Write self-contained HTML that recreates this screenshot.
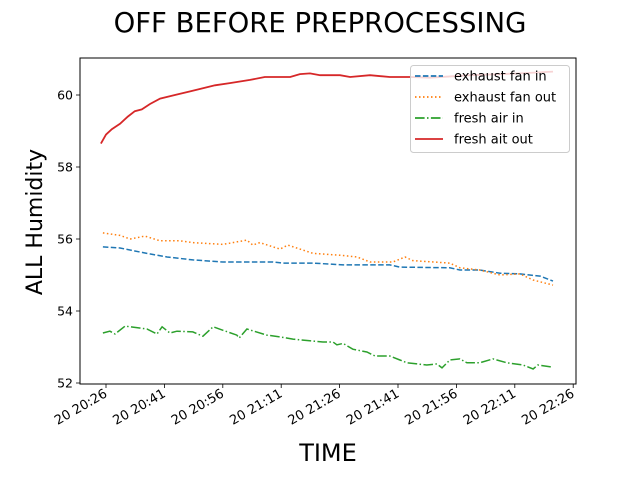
<!DOCTYPE html>
<html><head><meta charset="utf-8"><style>
body{margin:0;background:#fff;}
svg text{font-family:"DejaVu Sans","Liberation Sans",sans-serif;}
</style></head><body>
<svg id="chart" width="640" height="480" viewBox="0 0 640 480" xmlns="http://www.w3.org/2000/svg">
<rect width="640" height="480" fill="#fff"/>
<text x="320" y="32" font-size="27.5" text-anchor="middle">OFF BEFORE PREPROCESSING</text>
<text x="328" y="461" font-size="24" text-anchor="middle">TIME</text>
<text transform="translate(42,222) rotate(-90)" font-size="22" text-anchor="middle">ALL Humidity</text>
<g id="plot"></g>
</svg>
<script>
// minutes after 20:00
const redT=[24.7,26,27.5,29.6,31.6,33.4,35.2,37.3,39.9,43.7,47.6,51.4,54,57.8,63,66.8,73.3,75.8,78.4,81,86.1,88.7,93.8,98.9,104.1,109.2,119.5,132.3,140.8];
const redV=[58.65,58.9,59.05,59.2,59.4,59.55,59.6,59.75,59.9,60.0,60.1,60.2,60.27,60.33,60.42,60.5,60.5,60.58,60.6,60.55,60.55,60.5,60.55,60.5,60.5,60.48,60.55,60.6,60.65];
const orT=[25.2,29.6,32.2,36,39.9,45,48.3,56,62.2,63.7,65.5,70.7,72.7,79.2,86.1,90.5,93.8,99.7,102.8,104.8,114.3,116.9,122,127.2,132.3,135.7,140.8];
const orV=[56.17,56.1,56.0,56.08,55.95,55.95,55.9,55.85,55.97,55.83,55.9,55.72,55.83,55.6,55.55,55.5,55.36,55.36,55.5,55.4,55.33,55.2,55.14,55.0,55.03,54.86,54.72];
const blT=[25.2,29.6,36.5,41.7,48.3,56,68.9,71.5,79.2,86.9,98.9,101.5,114.3,116.9,122,127.2,132.3,137.5,140.8];
const blV=[55.78,55.75,55.6,55.5,55.42,55.36,55.36,55.33,55.33,55.28,55.28,55.22,55.2,55.14,55.14,55.05,55.03,54.97,54.83];
const grT=[25.2,27,28.3,30.9,36.5,39.1,40.4,42.4,44.2,48.3,50.9,53.5,59.6,60.2,62.2,67.3,70.7,74,81.7,84.3,85.3,86.9,89.4,93,95.1,98.9,101.5,103.3,108.4,111,112.3,114.3,116.9,118.7,122,125.4,129,133.1,135.7,136.9,140.8];
const grV=[53.39,53.44,53.36,53.58,53.5,53.36,53.56,53.39,53.44,53.42,53.3,53.56,53.33,53.25,53.5,53.33,53.28,53.22,53.14,53.14,53.06,53.1,52.94,52.86,52.75,52.75,52.64,52.56,52.5,52.53,52.42,52.64,52.67,52.56,52.56,52.67,52.56,52.5,52.39,52.5,52.44];
const xTicks=[26,41,56,71,86,101,116,131,146];
const xLabels=["20 20:26","20 20:41","20 20:56","20 21:11","20 21:26","20 21:41","20 21:56","20 22:11","20 22:26"];
const yTicks=[52,54,56,58,60];

const L=80,R=576,T=58,B=384;
const x=t=>106+(t-26)*58.4/15;
const y=v=>383-(v-52)*36;
const NS="http://www.w3.org/2000/svg";
const g=document.getElementById('plot');
function mk(tag,attrs,parent){const e=document.createElementNS(NS,tag);for(const k in attrs)e.setAttribute(k,attrs[k]);(parent||g).appendChild(e);return e;}

function series(ts,vs,color,dash,name,w){
  const d=ts.map((t,i)=>(i?'L':'M')+x(t).toFixed(1)+','+y(vs[i]).toFixed(1)).join('');
  const p=mk('path',{d:d,fill:'none',stroke:color,'stroke-width':w||1.5,'stroke-dasharray':dash});
  
  
}
series(blT,blV,'#1f77b4','5.5,2.4','series-exhaust-fan-in');
series(orT,orV,'#ff7f0e','1.5,2.5','series-exhaust-fan-out');
series(grT,grV,'#2ca02c','9.6,2.4,1.5,2.4','series-fresh-air-in');
series(redT,redV,'#d62728','','series-fresh-ait-out',1.8);

xTicks.forEach((t,i)=>{
  const tk=mk('line',{x1:x(t),x2:x(t),y1:B,y2:B+4,stroke:'#000','stroke-width':0.8});
  
  
  const ax=x(t)+2, ay=B+12;
  const tx=mk('text',{x:ax,y:ay,'font-size':13,'text-anchor':'end',transform:`rotate(-30 ${ax} ${ay})`});
  tx.textContent=xLabels[i];
  
  
});
yTicks.forEach(v=>{
  const tk=mk('line',{x1:L-4,x2:L,y1:y(v),y2:y(v),stroke:'#000','stroke-width':0.8});
  
  
  const tx=mk('text',{x:L-7,y:y(v)+4.5,'font-size':12.5,'text-anchor':'end'});
  tx.textContent=v;
  
  
});
const fr=mk('rect',{x:L,y:T,width:R-L,height:B-T,fill:'none',stroke:'#000','stroke-width':1});



// legend
const lg=mk('g',{});


mk('rect',{x:410.5,y:65.5,width:159,height:87,rx:3,fill:'#fff','fill-opacity':0.8,stroke:'#ccc'},lg);
const items=[['exhaust fan in','#1f77b4','5.5,2.4'],['exhaust fan out','#ff7f0e','1.5,2.5'],['fresh air in','#2ca02c','9.6,2.4,1.5,2.4'],['fresh ait out','#d62728','']];
items.forEach((it,i)=>{
  const yy=76+i*21;
  const e=mk('g',{},lg);
  
  
  mk('line',{x1:415,x2:443,y1:yy,y2:yy,stroke:it[1],'stroke-width':1.8,'stroke-dasharray':it[2]},e);
  const t=mk('text',{x:454,y:yy+4.5,'font-size':13},e);
  t.textContent=it[0];
});
</script>
</body></html>
